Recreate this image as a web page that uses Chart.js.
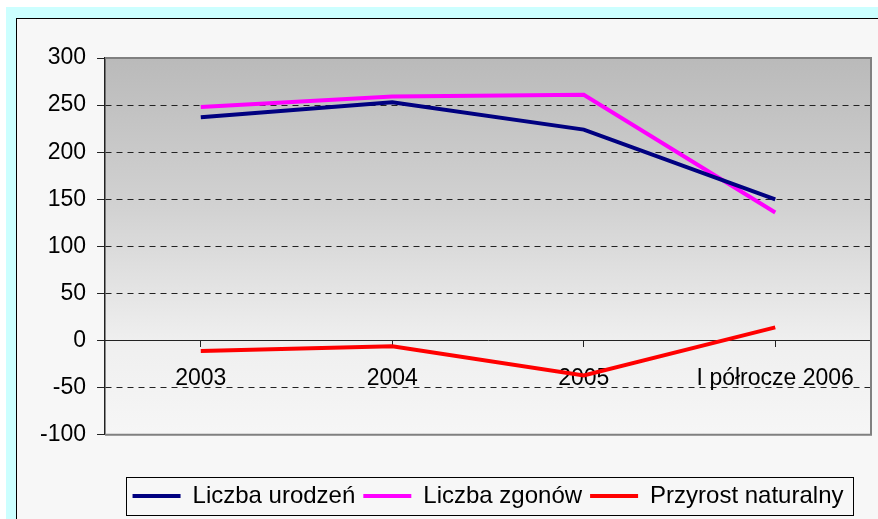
<!DOCTYPE html>
<html>
<head>
<meta charset="utf-8">
<script src="https://cdn.jsdelivr.net/npm/chart.js@4"></script>
<style>
    body { margin: 0; background: #fff; overflow: hidden; }
    .frame { position: absolute; left: 6px; top: 7px; width: 900px; height: 600px; background: #ccffff; }
    .chart-box { position: absolute; left: 16px; top: 18px; width: 900px; height: 560px; border: 1px solid #000; background: #f7f7f7; }
    canvas { position: absolute; left: 0; top: 0; }
</style>
</head>
<body>
<div class="frame"></div>
<div class="chart-box">
    <canvas id="chart" width="861" height="500"></canvas>
</div>
<script>
const YEARS = ['2003', '2004', '2005', 'I półrocze 2006'];
const BIRTHS = [237, 253, 224, 150];
const DEATHS = [248, 259, 261, 136];
const NATURAL_GROWTH = [-11, -6, -37, 14];

const FONT = { family: "'Liberation Sans', Arial, sans-serif", size: 23 };

// plot area gradient + grey frame around it
const plotBackground = {
    id: 'plotBackground',
    beforeDraw(chart) {
        const { ctx, chartArea: a } = chart;
        const g = ctx.createLinearGradient(0, a.top, 0, a.bottom);
        g.addColorStop(0, '#bababa');
        g.addColorStop(0.4, '#d2d2d2');
        g.addColorStop(0.75, '#efefef');
        g.addColorStop(1, '#f6f6f6');
        ctx.save();
        ctx.fillStyle = g;
        ctx.fillRect(a.left, a.top, a.right - a.left, a.bottom - a.top);
        ctx.restore();
    },
    beforeDatasetsDraw(chart) {
        const { ctx, chartArea: a } = chart;
        ctx.save();
        ctx.strokeStyle = '#808080';
        ctx.lineWidth = 2;
        ctx.beginPath();
        ctx.moveTo(a.left, a.top);
        ctx.lineTo(a.right, a.top);
        ctx.lineTo(a.right, a.bottom);
        ctx.lineTo(a.left, a.bottom);
        ctx.stroke();
        ctx.restore();
    }
};

// black frame around the legend items
const legendFrame = {
    id: 'legendFrame',
    afterDraw(chart) {
        const boxes = chart.legend.legendHitBoxes;
        if (!boxes || !boxes.length) return;
        const left = Math.min(...boxes.map(b => b.left)) - 7;
        const right = Math.max(...boxes.map(b => b.left + b.width)) + 9;
        const mid = boxes[0].top + boxes[0].height / 2;
        const { ctx } = chart;
        ctx.save();
        ctx.strokeStyle = '#000';
        ctx.lineWidth = 1;
        ctx.strokeRect(Math.round(left) + 0.5, Math.round(mid - 19) + 0.5, Math.round(right - left), 38);
        ctx.restore();
    }
};

function series(label, data, color) {
    return {
        label: label,
        data: data,
        borderColor: color,
        backgroundColor: color,
        pointBorderColor: color,
        pointBackgroundColor: color,
        pointBorderWidth: 4
    };
}

new Chart(document.getElementById('chart'), {
    type: 'line',
    data: {
        labels: YEARS,
        datasets: [
            series('Liczba urodzeń', BIRTHS, '#000080'),
            series('Liczba zgonów', DEATHS, '#ff00ff'),
            series('Przyrost naturalny', NATURAL_GROWTH, '#ff0000')
        ]
    },
    options: {
        responsive: false,
        animation: false,
        layout: { padding: { left: 12, top: 39, right: 7, bottom: 1 } },
        elements: {
            line: { borderWidth: 4, tension: 0 },
            point: { radius: 0, hoverRadius: 0 }
        },
        plugins: {
            tooltip: { enabled: false },
            legend: {
                position: 'bottom',
                fullSize: false,
                title: { display: true, text: ' ', font: { size: 1 }, padding: { top: 0, bottom: 40 } },
                labels: {
                    color: '#000',
                    font: { family: FONT.family, size: 24 },
                    padding: 8,
                    usePointStyle: true,
                    pointStyle: 'line',
                    pointStyleWidth: 48
                }
            }
        },
        scales: {
            x: {
                position: { y: 0 },
                offset: true,
                grid: { drawOnChartArea: false, tickLength: 6, tickColor: '#222' },
                border: { color: '#222', width: 1 },
                ticks: { color: '#000', font: FONT, padding: 18, maxRotation: 0 }
            },
            y: {
                min: -100,
                max: 300,
                ticks: { stepSize: 50, color: '#000', font: FONT, padding: 11 },
                grid: {
                    color: ctx => [300, 0, -100].includes(ctx.tick.value) ? 'rgba(0,0,0,0)' : '#222',
                    tickLength: 8,
                    tickColor: '#222'
                },
                border: { color: '#222', width: 1.5, dash: [6, 5] }
            }
        }
    },
    plugins: [plotBackground, legendFrame]
});
</script>
</body>
</html>
